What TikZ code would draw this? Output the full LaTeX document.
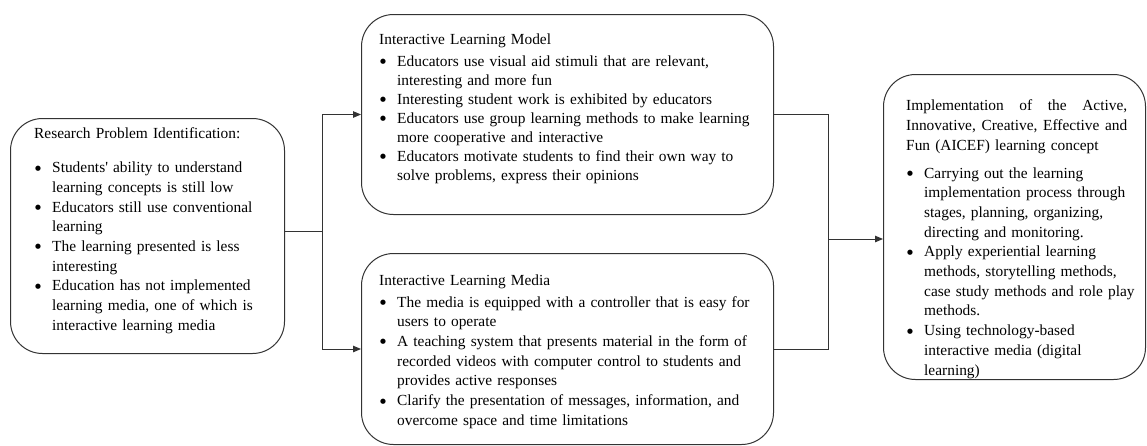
\documentclass[tikz,border=0pt]{standalone}
\usepackage{fontspec}
\setmainfont{Liberation Serif}
\newfontfamily\dotfont{DejaVu Sans}
\usetikzlibrary{arrows.meta}

% round list marker
\newcommand{\dotmark}{\raisebox{2.6pt}{\dotfont\fontsize{6.8}{0}\selectfont ●}}
% one bulleted entry with a hanging indent
\newcommand{\bul}[1]{\par\noindent\hangindent=18pt\hangafter=1\makebox[18pt][l]{\hspace{1pt}\dotmark}#1\par}

\tikzset{
  box/.style={draw=black!80, line width=1pt, rounded corners=32pt, anchor=north west, inner sep=0pt},
  txt/.style={anchor=north west, inner sep=0pt, align=left, font=\fontsize{15.4}{19.7}\selectfont},
  link/.style={draw=black!80, line width=1pt},
  arr/.style={link, -{Triangle[length=8pt,width=6.5pt]}},
}

\begin{document}
\begin{tikzpicture}[x=1pt, y=-1pt]
  \useasboundingbox (0,0) rectangle (1147,445);
  \fill[white] (0,0) rectangle (1147,445);

  % frames
  \node[box, minimum width=274pt, minimum height=235pt] (lb) at (10,118) {};
  \node[box, minimum width=412pt, minimum height=200pt] (tm) at (361,14) {};
  \node[box, minimum width=412pt, minimum height=191pt] (bm) at (361,253) {};
  \node[box, minimum width=262pt, minimum height=305pt] (rb) at (883,74) {};

  % contents
  \node[txt, text width=245pt] (lt) at (34,125) {%
    \strut Research Problem Identification:\par\vspace{14pt}
    \bul{Students\textquotesingle{} ability to understand\newline learning concepts is still low}
    \bul{Educators still use conventional\newline learning}
    \bul{The learning presented is less\newline interesting}
    \bul{Education has not implemented\newline learning media, one of which is\newline interactive learning media}};

  \node[txt, text width=385pt, font=\fontsize{15.4}{19.0}\selectfont] (tmt) at (379,30.5) {%
    \strut Interactive Learning Model\par\vspace{3.5pt}
    \bul{Educators use visual aid stimuli that are relevant,\newline interesting and more fun}
    \bul{Interesting student work is exhibited by educators}
    \bul{Educators use group learning methods to make learning\newline more cooperative and interactive}
    \bul{Educators motivate students to find their own way to\newline solve problems, express their opinions}};

  \node[txt, text width=385pt] (bmt) at (379,271.5) {%
    \strut Interactive Learning Media\par\vspace{2pt}
    \bul{The media is equipped with a controller that is easy for\newline users to operate}
    \bul{A teaching system that presents material in the form of\newline recorded videos with computer control to students and\newline provides active responses}
    \bul{Clarify the presentation of messages, information, and\newline overcome space and time limitations}};

  \node[txt, text width=235pt] (rt) at (906,97) {%
    \strut\makebox[221pt][l]{Implementation\hfill of\hfill the\hfill Active,}\newline
    \makebox[221pt][l]{Innovative,\hfill Creative,\hfill Effective\hfill and}\newline
    Fun (AICEF) learning concept\par\vspace{8pt}
    \bul{Carrying out the learning\newline implementation process through\newline stages, planning, organizing,\newline directing and monitoring.}
    \bul{Apply experiential learning\newline methods, storytelling methods,\newline case study methods and role play\newline methods.}
    \bul{Using technology-based\newline interactive media (digital\newline learning)}};

  % connectors
  \coordinate (jl) at (322,231);
  \coordinate (jr) at (828,239);
  \draw[link] (lb.east |- jl) -- (jl);
  \draw[arr] (jl) |- (tm.west);
  \draw[arr] (jl) |- (bm.west);
  \draw[link] (tm.east) -| (jr);
  \draw[link] (bm.east) -| (jr);
  \draw[arr] (jr) -- (rb.west |- jr);
\end{tikzpicture}
\end{document}
